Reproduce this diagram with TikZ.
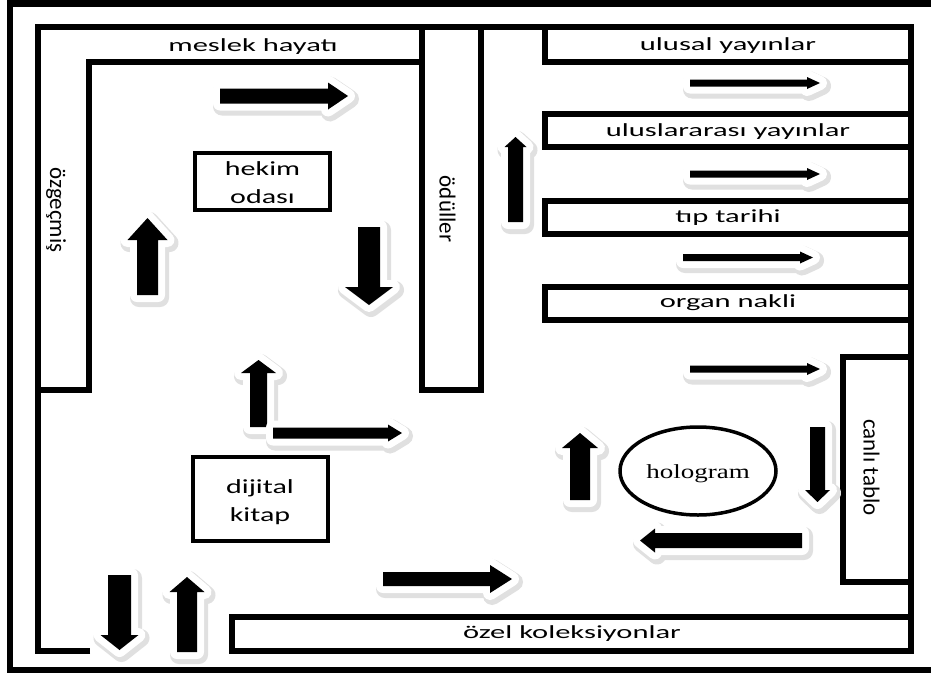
\documentclass[tikz,border=0pt]{standalone}
\usepackage{fontspec}
\setmainfont{Carlito}
\newfontfamily\holofont{Liberation Serif}
\usepackage{graphicx}
\usetikzlibrary{shapes.geometric}
\newcommand{\wide}[2][1.5]{\scalebox{#1}[1]{#2}}
\def\blockarrow(#1)(#2:#3:#4:#5:#6){%
	\def\arrowpath{(0,-#4) -- ({#3-#6},-#4) -- ({#3-#6},-#5) -- (#3,0) -- ({#3-#6},#5) -- ({#3-#6},#4) -- (0,#4) -- cycle}
	\begin{scope}[shift={(#1)}]
		\draw[arrowglow, shift={(2,3)}, rotate=#2] \arrowpath;
		\fill[arrowbody, rotate=#2] \arrowpath;
	\end{scope}}
\tikzset{
	frame/.style={line width=6.5pt},
	wall/.style={line width=6pt},
	arrowglow/.style={draw=black!12, fill=black!12, line width=18pt, line join=round},
	arrowbody/.style={fill=black, preaction={draw=white, line width=14pt, line join=round}},
	corridor/.style={font=\fontsize{18.5}{20}\selectfont, inner sep=0pt},
	sidetext/.style={font=\fontsize{23}{25}\selectfont, inner sep=0pt},
	roombox/.style={draw, line width=4pt, minimum width=135pt, minimum height=57pt},
	roomtext/.style={font=\fontsize{20}{28}\selectfont, align=center, inner sep=0pt}
}

\begin{document}
\begin{tikzpicture}[x=1pt, y=-1pt]
		%%%%% START %%%%%
		\useasboundingbox (0,0) rectangle (931,675);
		\clip (0,0) rectangle (931,675);
		\fill[white] (0,0) rectangle (931,675);
		
		\draw[frame] (10,3.5) rectangle (945,670);
		
		% outer walls of the path
		\draw[wall] (90,651) -- (38,651) -- (38,26.5) -- (911,26.5) -- (911,651) -- (231.5,651) -- (231.5,616.5) -- (911,616.5);
		\draw[wall] (38,390) -- (88.5,390) -- (88.5,61.5) -- (421.5,61.5);
		\draw[wall] (421.5,26.5) -- (421.5,390) -- (481,390) -- (481,26.5);
		
		% right stack
		\draw[wall] (545,26.5) -- (545,61.5) -- (911,61.5);
		\draw[wall] (545,113.5) rectangle (911,147);
		\draw[wall] (545,201) rectangle (911,234);
		\draw[wall] (545,287) rectangle (911,320);
		\draw[wall] (843,357) rectangle (911,581.5);
		
		\node[corridor] (meslek) at (253,46.5) {\wide[1.65]{meslek hayatı}};
		\node[corridor] (ulusal) at (728,46) {\wide[1.65]{ulusal yayınlar}};
		\node[corridor] (uluslararasi) at (728,132) {\wide[1.65]{uluslararası yayınlar}};
		\node[corridor] (tip) at (728,217.5) {\wide[1.65]{tıp tarihi}};
		\node[corridor] (organ) at (728,303) {\wide[1.65]{organ nakli}};
		\node[corridor] (ozel) at (572,634) {\wide[1.65]{özel koleksiyonlar}};
		
		\node[sidetext, rotate=-90] (ozgecmis) at (56,210) {özgeçmiş};
		\node[sidetext, rotate=-90] (oduller) at (447.5,209) {ödüller};
		\node[sidetext, rotate=-90] (canli) at (871.5,467.5) {canlı tablo};
		
		\node[roombox] (hekim) at (262.5,181.5) {};
		\node[roomtext] (hekimtext) at (262.5,183) {\wide{hekim}\\\wide{odası}};
		\node[roombox, minimum height=84pt] (dijital) at (260,499) {};
		\node[roomtext] (dijitaltext) at (260,502) {\wide{dijital}\\\wide{kitap}};
		
		\node[draw, ellipse, line width=3.5pt, minimum width=156pt, minimum height=88pt] (holo) at (698,471) {};
		\node[inner sep=0pt, font=\holofont\fontsize{20}{22}\selectfont] (holotext) at (698,474) {\wide[1.35]{hologram}};
		
		% arrows: tail, angle, length, shaft, head, head length
		\blockarrow(220,96)(0:128:7.5:13.5:20)
		\blockarrow(147.5,295)(90:77:10.5:20:22)
		\blockarrow(369,227)(-90:78:11:24:18)
		\blockarrow(258.5,427)(90:67:8.5:17.5:13)
		\blockarrow(273,433)(0:129:5.5:8.5:14)
		\blockarrow(119.5,575)(-90:75:11.5:19:15)
		\blockarrow(187,652)(90:75:10:17.5:15)
		\blockarrow(383,579)(0:129:7:14:22)
		\blockarrow(515.5,222)(90:85:7.5:11:10)
		\blockarrow(690,83)(0:130:3.5:6:13)
		\blockarrow(690,174)(0:130:3.5:6:13)
		\blockarrow(683,257.5)(0:130:3.5:6:13)
		\blockarrow(690,369)(0:130:3.5:6:13)
		\blockarrow(817.5,427)(-90:75:7.5:12.5:12)
		\blockarrow(802,540.5)(180:162:7.5:12:15)
		\blockarrow(580,500)(90:67:10:18:15)
		
		%%%%% END %%%%%
\end{tikzpicture}
\end{document}
